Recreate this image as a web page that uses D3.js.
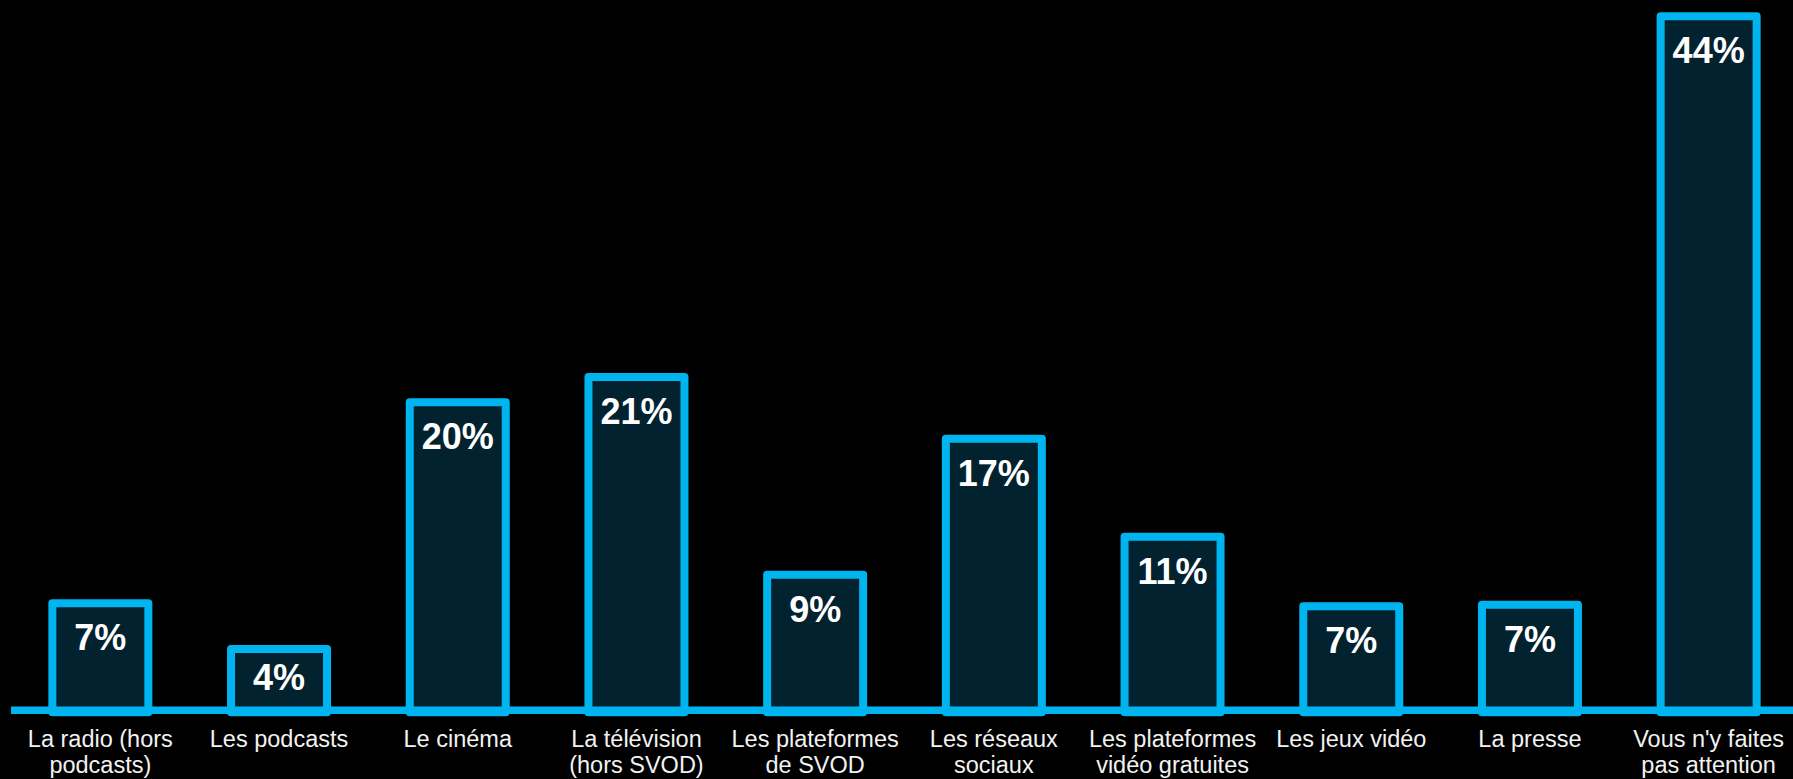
<!DOCTYPE html>
<html>
<head>
<meta charset="utf-8">
<script src="https://cdn.jsdelivr.net/npm/d3@7"></script>
<style>
  html, body { margin: 0; padding: 0; background: #000; }
  svg { display: block; }
</style>
</head>
<body>
<svg id="chart" width="1793" height="779"></svg>
<script>
const categories = [
  ["La radio (hors", "podcasts)"],
  ["Les podcasts"],
  ["Le cinéma"],
  ["La télévision", "(hors SVOD)"],
  ["Les plateformes", "de SVOD"],
  ["Les réseaux", "sociaux"],
  ["Les plateformes", "vidéo gratuites"],
  ["Les jeux vidéo"],
  ["La presse"],
  ["Vous n'y faites", "pas attention"]
];
const values = [6.9, 4.0, 19.6, 21.2, 8.7, 17.3, 11.1, 6.7, 6.8, 44.0];
const valueLabels = ["7%", "4%", "20%", "21%", "9%", "17%", "11%", "7%", "7%", "44%"];

const svg = d3.select("#chart");
const keys = categories.map((c, i) => i);

const x = d3.scaleBand().domain(keys).range([11, 1798]).padding(0);
const y = d3.scaleLinear().domain([0, 44]).range([712.3, 16.3]);

const barW = 96;
const stroke = "#00b4f0";
const fill = "#03222f";

const g = svg.append("g");

g.selectAll("rect.bar")
  .data(values)
  .join("rect")
  .attr("class", "bar")
  .attr("x", (d, i) => x(i) + x.bandwidth() / 2 - barW / 2)
  .attr("y", d => y(d))
  .attr("width", barW)
  .attr("height", d => y(0) - y(d))
  .attr("fill", fill)
  .attr("stroke", stroke)
  .attr("stroke-width", 8)
  .attr("stroke-linejoin", "round");

g.selectAll("text.val")
  .data(values)
  .join("text")
  .attr("class", "val")
  .attr("x", (d, i) => x(i) + x.bandwidth() / 2)
  .attr("y", d => Math.min(y(d) + 47, y(0) - 22))
  .attr("text-anchor", "middle")
  .attr("font-family", "Liberation Sans, Arial, sans-serif")
  .attr("font-weight", "bold")
  .attr("font-size", 36)
  .attr("fill", "#ffffff")
  .text((d, i) => valueLabels[i]);

// baseline axis
g.append("line")
  .attr("x1", 11).attr("x2", 1793)
  .attr("y1", 710.3).attr("y2", 710.3)
  .attr("stroke", stroke)
  .attr("stroke-width", 7.5);

// category labels
const lab = g.selectAll("text.cat")
  .data(categories)
  .join("text")
  .attr("class", "cat")
  .attr("x", (d, i) => x(i) + x.bandwidth() / 2)
  .attr("y", 746.7)
  .attr("text-anchor", "middle")
  .attr("font-family", "Liberation Sans, Arial, sans-serif")
  .attr("font-size", 23.5)
  .attr("fill", "#f2f2f2");

lab.selectAll("tspan")
  .data((d, i) => d.map(t => ({ t, i })))
  .join("tspan")
  .attr("x", d => x(d.i) + x.bandwidth() / 2)
  .attr("dy", (d, j) => j === 0 ? 0 : 26.7)
  .text(d => d.t);
</script>
</body>
</html>
